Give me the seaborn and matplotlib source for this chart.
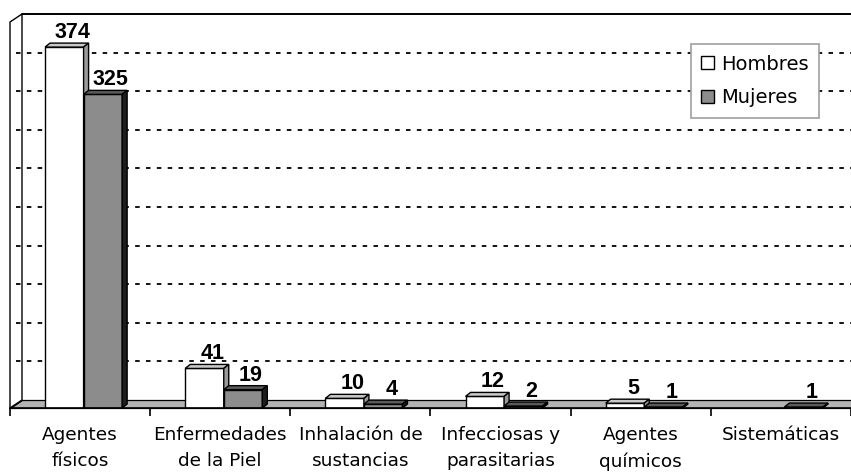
"""
Enfermedades profesionales por grupo y sexo - barras agrupadas con efecto 3D.
"""
import numpy as np
import pandas as pd
import matplotlib.pyplot as plt
import seaborn as sns
from matplotlib.patches import Polygon

# ---------- datos ----------
categories = ["Agentes\nfísicos", "Enfermedades\nde la Piel", "Inhalación de\nsustancias",
              "Infecciosas y\nparasitarias", "Agentes\nquímicos", "Sistemáticas"]
hombres = [374, 41, 10, 12, 5, 0]
mujeres = [325, 19, 4, 2, 1, 1]
series = ["Hombres", "Mujeres"]
y_max = 400
grid_step = 40

df = pd.DataFrame({
    "categoria": categories * 2,
    "sexo": [series[0]] * len(categories) + [series[1]] * len(categories),
    "casos": hombres + mujeres,
})

sns.set_theme(style="white")
plt.rcParams["font.family"] = ["DejaVu Sans"]
plt.rcParams["text.color"] = "black"

W, H = 851, 473
fig = plt.figure(figsize=(W / 100, H / 100), dpi=100)
ax = fig.add_axes([10 / W, 1 - 408 / H, 841 / W, (408 - 22) / H])

palette = {"Hombres": "#ffffff", "Mujeres": "#8c8c8c"}
sns.barplot(data=df, x="categoria", y="casos", hue="sexo", hue_order=series,
            palette=palette, width=0.55, edgecolor="black", linewidth=1.0,
            saturation=1, ax=ax)

n = len(categories)
ax.set_xlim(-0.5, n - 0.5)
ax.set_ylim(0, y_max)

# pixel -> data helpers
bb = ax.get_window_extent()
ux = n / bb.width
uy = y_max / bb.height
def px(dx, dy):
    return dx * ux, dy * uy

fx, fy = px(12, 8)     # profundidad de la pared/suelo
bx, by = px(5, 4)      # profundidad de las barras
shift, _ = px(3.5, 0)

# suelo y pared
x0, x1 = -0.5, n - 0.5
floor = Polygon([(x0, 0), (x1 + 1, 0), (x1 + 1, fy), (x0 + fx, fy)], closed=True,
                facecolor="#b3b3b3", edgecolor="black", lw=0.9, zorder=0.5, clip_on=False)
ax.add_patch(floor)
wall = Polygon([(x0, 0), (x0, y_max), (x0 + fx, y_max + fy), (x0 + fx, fy)], closed=True,
               facecolor="white", edgecolor="black", lw=1.0, zorder=0.6, clip_on=False)
ax.add_patch(wall)
ax.plot([x0 + fx, x1 + 1], [y_max + fy, y_max + fy], color="black", lw=1.4,
        clip_on=False, zorder=0.6)

# rejilla discontinua en la pared del fondo
for v in range(grid_step, y_max, grid_step):
    ax.plot([x0 + px(6, 0)[0], x1 + 1], [v + fy, v + fy], color="black", lw=1.3,
            ls=(0, (2.5, 3.5)), zorder=0.7, clip_on=False)

# caras 3D de las barras
top_col = {"Hombres": "#c8c8c8", "Mujeres": "#5a5a5a"}
side_col = {"Hombres": "#9a9a9a", "Mujeres": "#1e1e1e"}
for k, (name, cont) in enumerate(zip(series, ax.containers)):
    z = 2 + k
    for p, val in zip(cont.patches, [hombres, mujeres][k]):
        p.set_x(p.get_x() + shift)
        p.set_zorder(z)
        xl, w, h = p.get_x(), p.get_width(), p.get_height()
        if val <= 0:
            p.set_visible(False)
            continue
        top = Polygon([(xl, h), (xl + w, h), (xl + w + bx, h + by), (xl + bx, h + by)],
                      closed=True, facecolor=top_col[name], edgecolor="black", lw=1.0, zorder=z)
        side = Polygon([(xl + w, 0), (xl + w, h), (xl + w + bx, h + by), (xl + w + bx, by)],
                       closed=True, facecolor=side_col[name], edgecolor="black", lw=1.0, zorder=z)
        ax.add_patch(top)
        ax.add_patch(side)
        ax.annotate(str(val), (xl + w / 2, h), xytext=(8, 9), textcoords="offset pixels",
                    ha="center", va="baseline", fontsize=15.5, fontweight="bold",
                    family=["Liberation Sans", "DejaVu Sans"], color="black", zorder=5)

# ejes
for s in ["left", "right", "top"]:
    ax.spines[s].set_visible(False)
ax.spines["bottom"].set_color("black")
ax.spines["bottom"].set_linewidth(1.2)
ax.spines["bottom"].set_zorder(4)
ax.set_yticks([])
ax.set_xticks(range(n))
ax.set_xticklabels(categories, fontsize=13.3, color="black")
for t in ax.get_xticklabels():
    t.set_linespacing(1.55)
ax.set_xticks(np.arange(-0.5, n, 1), minor=True)
ax.tick_params(axis="x", which="major", length=0, pad=13, labelcolor="black")
ax.tick_params(axis="x", which="minor", length=6, width=1.2, color="black", direction="out",
               bottom=True)
ax.set_xlabel("")
ax.set_ylabel("")

handles, labels = ax.get_legend_handles_labels()
leg = ax.legend(handles, labels, loc="upper right", bbox_to_anchor=(819 / W, 1 - 44 / H),
                bbox_transform=fig.transFigure, borderaxespad=0, fontsize=14,
                labelcolor="black",
                frameon=True, fancybox=False, framealpha=1, edgecolor="#a0a0a0",
                handlelength=0.65, handleheight=0.65, handletextpad=0.35,
                labelspacing=0.75, borderpad=0.55)
leg.get_frame().set_linewidth(1.2)
leg.set_zorder(6)

fig.savefig("out.png", dpi=100)
